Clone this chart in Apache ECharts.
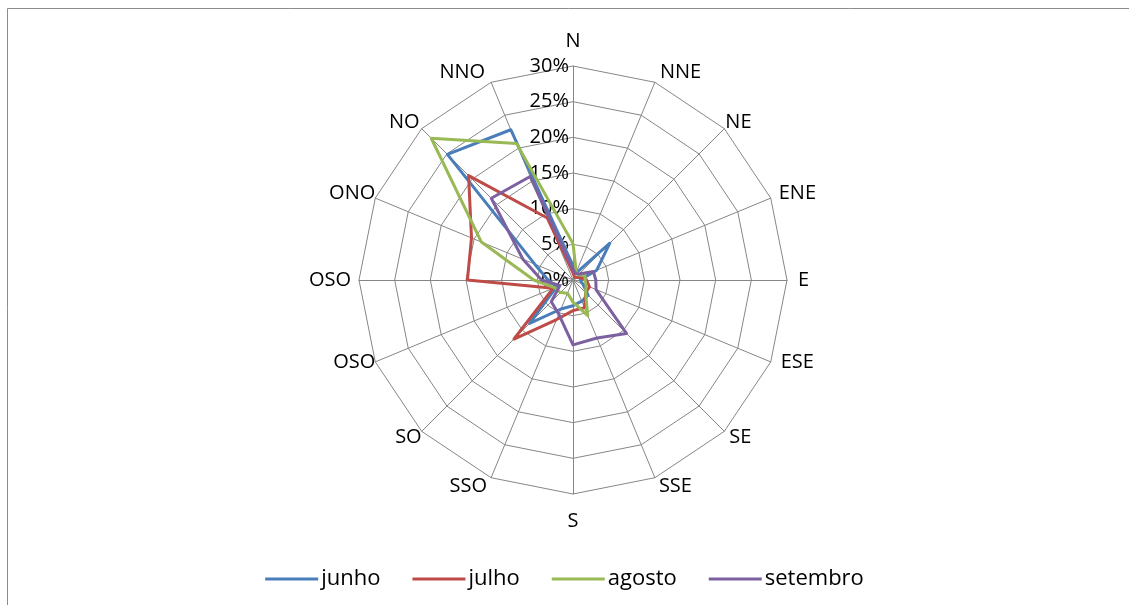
<!DOCTYPE html>
<html>
<head>
<meta charset="utf-8">
<script src="https://cdn.jsdelivr.net/npm/echarts@6/dist/echarts.min.js"></script>
<style>
  html, body { margin: 0; padding: 0; background: #fff; }
  #chart { width: 1129px; height: 605px; }
</style>
</head>
<body>
<div id="chart"></div>
<script>
// Wind direction frequency (%) per month, directions listed clockwise from north
const directions = ['N', 'NNE', 'NE', 'ENE', 'E', 'ESE', 'SE', 'SSE', 'S', 'SSO', 'SO', 'OSO', 'OSO', 'ONO', 'NO', 'NNO'];
const months = ['junho', 'julho', 'agosto', 'setembro'];
const junho    = [2.0, 1.0, 7.3, 3.6, 1.0, 1.5, 3.0, 3.2, 3.6, 4.4, 8.6, 2.5, 3.5, 5.8, 24.9, 22.8];
const julho    = [1.0, 0.5, 0.5, 1.0, 1.9, 2.5, 2.5, 4.2, 4.3, 6.0, 11.7, 3.0, 14.8, 15.4, 20.7, 9.4];
const agosto   = [5.1, 1.2, 1.0, 1.8, 1.7, 2.0, 2.5, 5.4, 3.1, 2.0, 2.5, 2.8, 5.5, 13.9, 28.1, 20.7];
const setembro = [1.5, 1.0, 1.2, 3.1, 3.2, 3.5, 10.6, 8.8, 9.1, 5.2, 4.3, 2.0, 4.4, 7.6, 16.2, 15.7];
const ringTicks = [0, 5, 10, 15, 20, 25, 30];
const colors = ['#4A7EBB', '#BE4B48', '#98B954', '#7D60A0'];

const FONT = 'Open Sans';

// Spacing of each direction label from its spoke tip [top, right, bottom, left]
const namePadding = [
  [0, 0, 15, 0],   // N
  [0, 0, 20, 5],   // NNE
  [0, 0, 13, 1],   // NE
  [0, 0, 10, 8],   // ENE
  [0, 0, 0, 11],   // E
  [0, 0, 0, 10],   // ESE
  [12, 0, 0, 5],   // SE
  [18, 0, 0, 4],   // SSE
  [17, 0, 0, 0],   // S
  [18, 4, 0, 0],   // SSO
  [12, 0, 0, 0],   // SO
  [0, 0, 0, 0],    // OSO
  [0, 8, 0, 0],    // OSO (west)
  [0, 0, 10, 0],   // ONO
  [0, 2, 13, 0],   // NO
  [0, 6, 20, 0]    // NNO
];

// ECharts lays radar indicators out counter-clockwise; reorder so they run clockwise
const order = directions.map((_, i) => (i === 0 ? 0 : directions.length - i));
const reorder = arr => order.map(i => arr[i]);

const maxVal = ringTicks[ringTicks.length - 1];
const indicator = order.map((dirIdx, i) => {
  const ind = { name: directions[dirIdx], min: 0, max: maxVal, dirIdx: dirIdx };
  if (i === 0) {
    ind.axisLabel = { show: true };
  }
  return ind;
});

const nameRich = {};
namePadding.forEach((p, i) => {
  nameRich['p' + i] = { padding: p, fontSize: 20, fontFamily: FONT, color: '#000' };
});

const seriesValues = [junho, julho, agosto, setembro];

const chart = echarts.init(document.getElementById('chart'), null, { renderer: 'canvas' });
chart.setOption({
  animation: false,
  color: colors,
  textStyle: { fontFamily: FONT },
  graphic: [{
    type: 'rect',
    shape: { x: 7.5, y: 8.5, width: 1200, height: 700 },
    style: { fill: 'none', stroke: '#8c8c8c', lineWidth: 1 },
    silent: true
  }],
  legend: {
    data: months,
    top: 563,
    left: 'center',
    icon: 'rect',
    itemWidth: 53,
    itemHeight: 3,
    itemGap: 32,
    textStyle: { fontFamily: FONT, fontSize: 22, color: '#000', padding: [0, 0, 0, -2] }
  },
  radar: {
    center: [573, 280],
    radius: 214,
    startAngle: 90,
    shape: 'polygon',
    splitNumber: ringTicks.length - 1,
    nameGap: 0,
    axisName: {
      color: '#000',
      fontSize: 20,
      fontFamily: FONT,
      rich: nameRich,
      formatter: (name, ind) => '{p' + ind.dirIdx + '|' + name + '}'
    },
    axisLine: { lineStyle: { color: '#868686', width: 1 } },
    splitLine: { lineStyle: { color: '#868686', width: 1 } },
    splitArea: { show: false },
    axisTick: { show: false },
    axisLabel: {
      show: false,
      color: '#000',
      fontSize: 20,
      fontFamily: FONT,
      margin: 4,
      formatter: v => v + '%'
    },
    indicator: indicator
  },
  series: [{
    type: 'radar',
    symbol: 'none',
    lineStyle: { width: 3 },
    data: months.map((m, i) => ({
      name: m,
      value: reorder(seriesValues[i]),
      lineStyle: { color: colors[i], width: 3 },
      itemStyle: { color: colors[i] }
    }))
  }]
});
</script>
</body>
</html>
